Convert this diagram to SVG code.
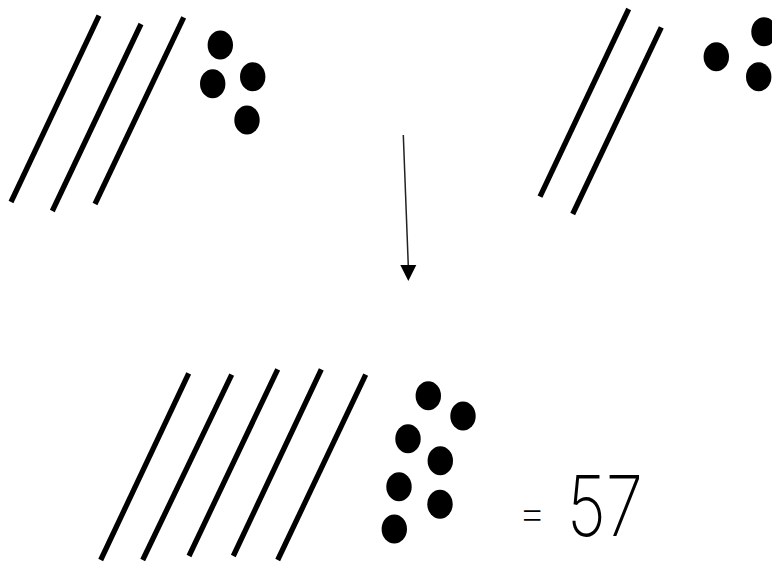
<svg xmlns="http://www.w3.org/2000/svg" width="772" height="562" viewBox="0 0 772 562">
<defs>
<style>
.tally{stroke:#000;stroke-width:5.3;stroke-linecap:butt;fill:none}
.dot{fill:#000}
.conn{stroke:#222;stroke-width:1.5;fill:none}
.lbl{font-family:Inter,"Liberation Sans",sans-serif;fill:#000}
</style>
</defs>
<rect width="772" height="562" fill="#fff"/>
<g id="top-left">
<line class="tally" x1="99" y1="15.7" x2="11" y2="202"/>
<line class="tally" x1="141" y1="24" x2="52.3" y2="211"/>
<line class="tally" x1="183.7" y1="17.3" x2="95" y2="204"/>
<ellipse class="dot" cx="220.3" cy="45" rx="12.7" ry="14.5"/>
<ellipse class="dot" cx="212.7" cy="83.7" rx="12.7" ry="14.5"/>
<ellipse class="dot" cx="252.7" cy="76.7" rx="12.7" ry="14.5"/>
<ellipse class="dot" cx="247" cy="120" rx="12.7" ry="14.5"/>
</g>
<g id="top-right">
<line class="tally" x1="628.7" y1="9" x2="540" y2="196.7"/>
<line class="tally" x1="661.3" y1="27.3" x2="572.7" y2="214"/>
<ellipse class="dot" cx="716.3" cy="56.7" rx="12.7" ry="14.5"/>
<ellipse class="dot" cx="764" cy="31.7" rx="12.7" ry="14.5"/>
<ellipse class="dot" cx="758.7" cy="76.7" rx="12.7" ry="14.5"/>
</g>
<g id="connectors">
<line class="conn" x1="403.3" y1="135" x2="408.3" y2="266"/>
<path d="M400.3,265 L416.3,265 L408.3,281 Z" fill="#000"/>
</g>
<g id="bottom">
<line class="tally" x1="188.7" y1="373.3" x2="100.7" y2="560"/>
<line class="tally" x1="231.7" y1="374.7" x2="142.7" y2="560"/>
<line class="tally" x1="277.7" y1="369.3" x2="189" y2="556"/>
<line class="tally" x1="321.3" y1="369.3" x2="233.3" y2="556"/>
<line class="tally" x1="365.7" y1="374.7" x2="277.7" y2="560"/>
<ellipse class="dot" cx="428.3" cy="395.7" rx="12.7" ry="14.5"/>
<ellipse class="dot" cx="463" cy="416" rx="12.7" ry="14.5"/>
<ellipse class="dot" cx="408" cy="438.7" rx="12.7" ry="14.5"/>
<ellipse class="dot" cx="440.3" cy="460.7" rx="12.7" ry="14.5"/>
<ellipse class="dot" cx="399" cy="486.7" rx="12.7" ry="14.5"/>
<ellipse class="dot" cx="440" cy="504.3" rx="12.7" ry="14.5"/>
<ellipse class="dot" cx="394.3" cy="529" rx="12.7" ry="14.5"/>
</g>
<g id="result">
<text class="lbl" x="518" y="528" font-size="44" font-weight="200">=</text>
<text class="lbl" x="567" y="535.7" font-size="84" font-weight="200" textLength="76" lengthAdjust="spacingAndGlyphs">57</text>
</g>
</svg>
